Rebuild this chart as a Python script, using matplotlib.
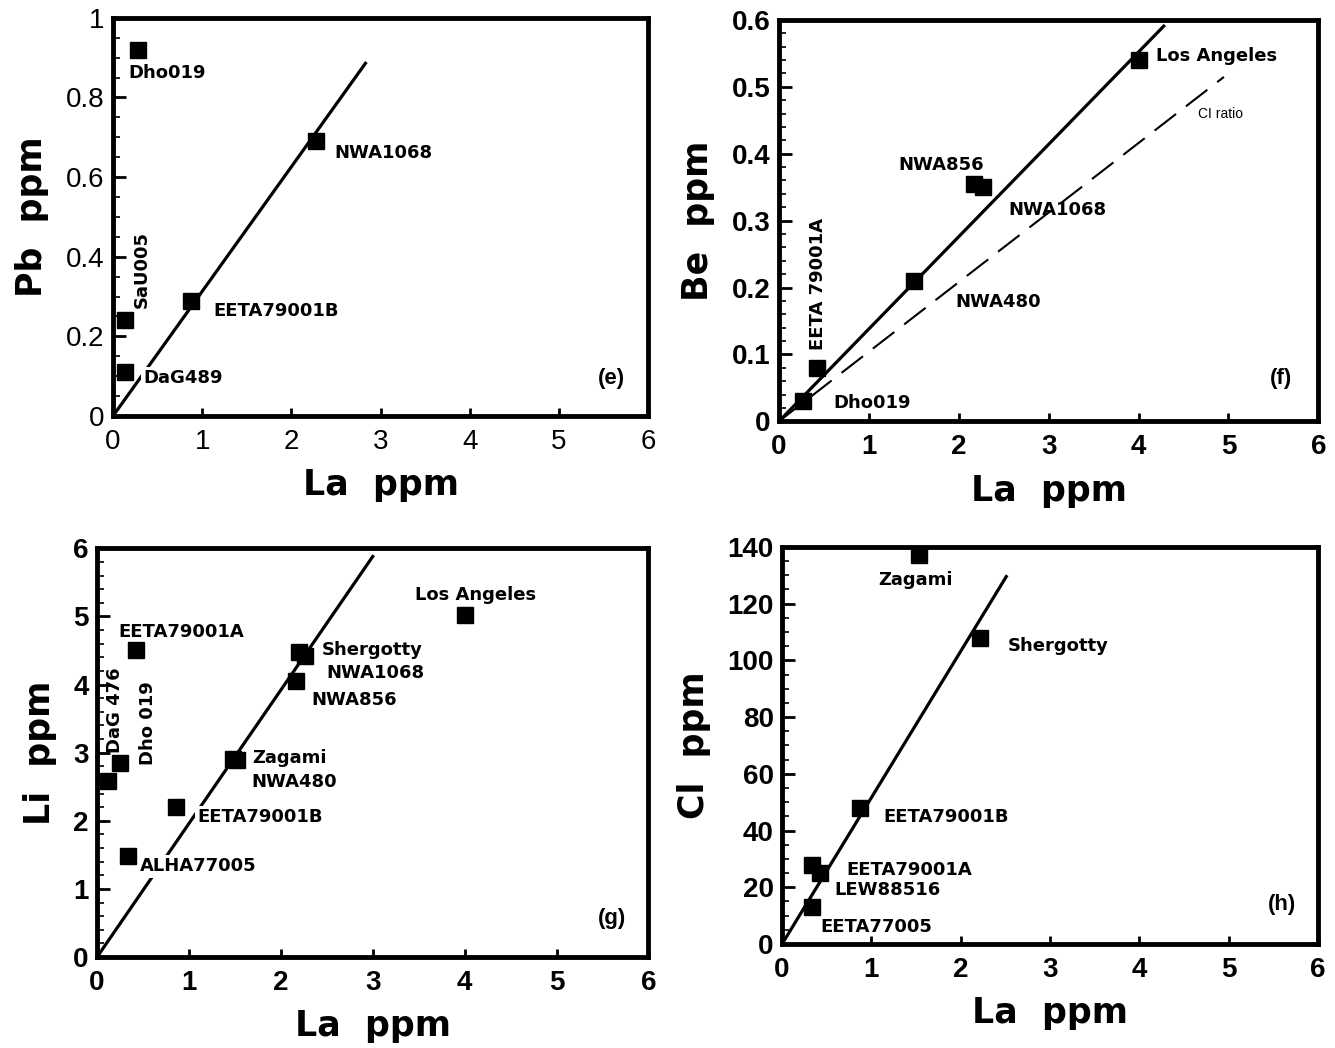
# La correlation plots (e)-(h): Pb, Be, Li, Cl vs La in martian meteorites
import numpy as np
import matplotlib.pyplot as plt
from matplotlib.ticker import MultipleLocator

# Panel (e): Pb vs La
e_names = ['Dho019', 'NWA1068', 'EETA79001B', 'SaU005', 'DaG489']
e_la = [0.28, 2.28, 0.87, 0.13, 0.13]
e_pb = [0.92, 0.69, 0.29, 0.24, 0.11]
e_fit = [0.0, 2.83]   # x-range of fitted line
e_slope = 0.313

# Panel (f): Be vs La
f_names = ['Los Angeles', 'NWA856', 'NWA1068', 'NWA480', 'EETA 79001A', 'Dho019']
f_la = [4.0, 2.17, 2.27, 1.50, 0.42, 0.27]
f_be = [0.54, 0.355, 0.35, 0.21, 0.08, 0.03]
f_fit = [0.0, 4.28]
f_slope = 0.138
f_ci = [0.0, 4.95]    # CI ratio line
f_ci_slope = 0.104

# Panel (g): Li vs La
g_names = ['Los Angeles', 'EETA79001A', 'Shergotty', 'NWA1068', 'NWA856', 'Zagami',
           'NWA480', 'DaG 476', 'Dho 019', 'EETA79001B', 'ALHA77005']
g_la = [4.0, 0.42, 2.2, 2.26, 2.17, 1.48, 1.52, 0.12, 0.25, 0.86, 0.34]
g_li = [5.02, 4.5, 4.48, 4.42, 4.05, 2.9, 2.89, 2.58, 2.85, 2.2, 1.48]
g_fit = [0.0, 3.0]
g_slope = 1.96

# Panel (h): Cl vs La
h_names = ['Zagami', 'Shergotty', 'EETA79001B', 'EETA79001A', 'LEW88516', 'EETA77005']
h_la = [1.53, 2.22, 0.87, 0.33, 0.42, 0.34]
h_cl = [137, 108, 48, 28, 25, 13]
h_fit = [0.0, 2.51]
h_slope = 51.6

narrow = ['Liberation Sans Narrow', 'Liberation Sans', 'DejaVu Sans']


def style_axes(ax, ymax, ystep, yminor, ylabels, ylabel, bold_ticks=True):
    ax.set_xlim(0, 6)
    ax.set_ylim(0, ymax)
    for s in ax.spines.values():
        s.set_linewidth(3.5)
    ax.set_xticks(range(7))
    ax.set_xticklabels([str(i) for i in range(7)])
    ax.set_yticks(np.arange(len(ylabels)) * ystep)
    ax.set_yticklabels(ylabels)
    ax.yaxis.set_minor_locator(MultipleLocator(yminor))
    ax.tick_params(which='both', direction='in', top=False, right=False)
    ax.tick_params(axis='x', which='major', length=6, width=2, pad=9)
    ax.tick_params(axis='y', which='major', length=9, width=2, pad=6)
    ax.tick_params(axis='y', which='minor', length=5, width=1.2)
    ax.tick_params(axis='x', which='minor', length=0)
    w = 'bold' if bold_ticks else 'normal'
    for lab in ax.get_xticklabels() + ax.get_yticklabels():
        lab.set_fontfamily(narrow)
        lab.set_fontsize(20)
        lab.set_fontweight(w)
    ax.set_xlabel('La  ppm', fontsize=25, fontweight='bold', family='DejaVu Sans', labelpad=10)
    ax.set_ylabel(ylabel, fontsize=25, fontweight='bold', family='DejaVu Sans', labelpad=12)


def draw_points(ax, xs, ys):
    ax.plot(xs, ys, linestyle='none', marker='s', ms=11, color='black', zorder=5)


def fit_line(ax, xr, slope, **kw):
    xr = np.array(xr)
    ax.plot(xr, slope * xr, color='black', zorder=2, **kw)


def put_labels(ax, names, places, white=()):
    for name, (x, y, ha, va, rot) in zip(names, places):
        bb = dict(facecolor='white', edgecolor='none', pad=2) if name in white else None
        ax.text(x, y, name, ha=ha, va=va, rotation=rot, fontsize=13, fontweight='bold',
                family='DejaVu Sans', zorder=4, bbox=bb)


def panel_tag(ax, tag, x, y):
    ax.text(x, y, tag, ha='center', va='center', fontsize=16, fontweight='bold', family=narrow)


fig = plt.figure(figsize=(13.35, 10.48), dpi=100)

# (e)
ax = fig.add_axes([0.0846, 0.603, 0.401, 0.380])
fit_line(ax, e_fit, e_slope, lw=2.3)
draw_points(ax, e_la, e_pb)
put_labels(ax, e_names, [
    (0.17, 0.862, 'left', 'center', 0),
    (2.48, 0.66, 'left', 'center', 0),
    (1.13, 0.264, 'left', 'center', 0),
    (0.325, 0.271, 'center', 'bottom', 90),
    (0.34, 0.095, 'left', 'center', 0),
], white=('DaG489',))
panel_tag(ax, '(e)', 5.59, 0.095)
style_axes(ax, 1.0, 0.2, 0.05, ['0', '0.2', '0.4', '0.6', '0.8', '1'], 'Pb  ppm', bold_ticks=False)

# (f)
ax = fig.add_axes([0.5835, 0.598, 0.404, 0.383])
fit_line(ax, f_fit, f_slope, lw=2.3)
fit_line(ax, f_ci, f_ci_slope, lw=1.5, dashes=(13, 6))
draw_points(ax, f_la, f_be)
put_labels(ax, f_names, [
    (4.19, 0.546, 'left', 'center', 0),
    (1.33, 0.383, 'left', 'center', 0),
    (2.55, 0.316, 'left', 'center', 0),
    (1.96, 0.178, 'left', 'center', 0),
    (0.43, 0.106, 'center', 'bottom', 90),
    (0.60, 0.027, 'left', 'center', 0),
])
ax.text(4.66, 0.46, 'CI ratio', fontsize=10, family=narrow, ha='left', va='center')
panel_tag(ax, '(f)', 5.58, 0.064)
style_axes(ax, 0.6, 0.1, 0.02, ['0', '0.1', '0.2', '0.3', '0.4', '0.5', '0.6'], 'Be  ppm')

# (g)
ax = fig.add_axes([0.0727, 0.0868, 0.413, 0.390])
fit_line(ax, g_fit, g_slope, lw=2.3)
draw_points(ax, g_la, g_li)
put_labels(ax, g_names, [
    (4.12, 5.32, 'center', 'center', 0),
    (0.23, 4.77, 'left', 'center', 0),
    (2.45, 4.5, 'left', 'center', 0),
    (2.50, 4.17, 'left', 'center', 0),
    (2.33, 3.77, 'left', 'center', 0),
    (1.69, 2.92, 'left', 'center', 0),
    (1.68, 2.57, 'left', 'center', 0),
    (0.20, 3.0, 'center', 'bottom', 90),
    (0.55, 2.82, 'center', 'bottom', 90),
    (1.09, 2.05, 'left', 'center', 0),
    (0.47, 1.33, 'left', 'center', 0),
], white=('EETA79001B', 'ALHA77005'))
panel_tag(ax, '(g)', 5.6, 0.57)
style_axes(ax, 6, 1, 0.2, [str(i) for i in range(7)], 'Li  ppm')

# (h)
ax = fig.add_axes([0.5858, 0.0992, 0.4015, 0.379])
fit_line(ax, h_fit, h_slope, lw=2.3)
draw_points(ax, h_la, h_cl)
put_labels(ax, h_names, [
    (1.49, 128.3, 'center', 'center', 0),
    (2.53, 105, 'left', 'center', 0),
    (1.13, 44.8, 'left', 'center', 0),
    (0.72, 26, 'left', 'center', 0),
    (0.59, 19, 'left', 'center', 0),
    (0.43, 6, 'left', 'center', 0),
])
panel_tag(ax, '(h)', 5.6, 13.8)
style_axes(ax, 140, 20, 5, [str(v) for v in range(0, 141, 20)], 'Cl  ppm')

plt.savefig('out.png', dpi=100)
